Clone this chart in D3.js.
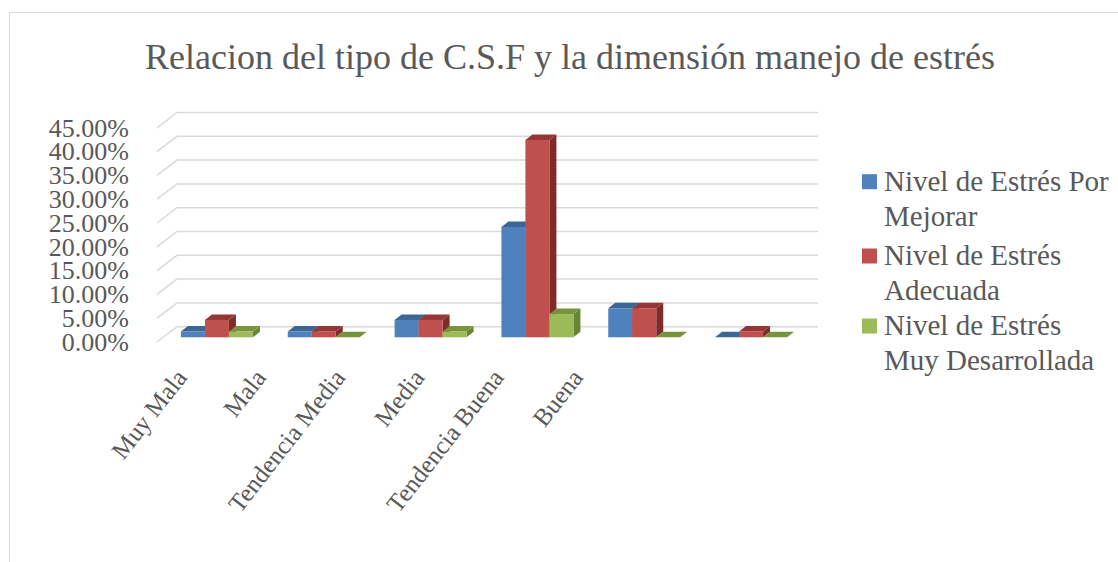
<!DOCTYPE html>
<html>
<head>
<meta charset="utf-8">
<script src="https://cdn.jsdelivr.net/npm/d3@7"></script>
<style>
  body { margin: 0; background: #fff; }
  text { font-family: "Liberation Serif", "Times New Roman", serif; fill: #595959; }
</style>
</head>
<body>
<div id="chart"></div>
<script>
// categories and series (values in %)
var categories = ["Muy Mala", "Mala", "Tendencia Media", "Media", "Tendencia Buena", "Buena"];
var seriesNames = ["Nivel de Estrés Por Mejorar", "Nivel de Estrés Adecuada", "Nivel de Estrés Muy Desarrollada"];
var porMejorar = [1.22, 1.22, 3.66, 23.17, 6.10, 0];
var adecuada = [3.66, 1.22, 3.66, 41.46, 6.10, 1.22];
var muyDesarrollada = [1.22, 0, 1.22, 4.88, 0, 0];
var yTicks = [0, 5, 10, 15, 20, 25, 30, 35, 40, 45];
var legendLines = [["Nivel de Estrés Por", "Mejorar"], ["Nivel de Estrés", "Adecuada"], ["Nivel de Estrés", "Muy Desarrollada"]];

var allSeries = [porMejorar, adecuada, muyDesarrollada];

// colours: front, top, side
var colors = [
    {front: "#4F81BD", top: "#3C6696", side: "#38598A"},
    {front: "#C0504D", top: "#943634", side: "#7D2C2A"},
    {front: "#9BBB59", top: "#77933C", side: "#6A8533"}
];

var w = 1118, h = 562;

var svg = d3.select("#chart")
    .append("svg")
    .attr("width", w)
    .attr("height", h);

// chart border (only top and left visible in the crop)
svg.append("rect")
    .attr("x", 9.5).attr("y", 12.5)
    .attr("width", 1200).attr("height", 700)
    .attr("fill", "none")
    .attr("stroke", "#d9d9d9");

// title
svg.append("text")
    .attr("x", 570).attr("y", 69)
    .attr("text-anchor", "middle")
    .style("font-size", "36px")
    .text("Relacion del tipo de C.S.F y la dimensión manejo de estrés");

// floor geometry (oblique 3D)
var floorY = 342;
var depth = {x: 20, y: -15.3};          // full floor depth
var barFront = {x: 6.5, y: -4.7};       // offset of bar front faces
var barDepth = {x: 7, y: -5.5};         // bar thickness in depth

var x0 = d3.scaleBand()
    .domain(categories)
    .range([157, 798]);

var groupW = x0.bandwidth() * 0.674;

var x1 = d3.scaleBand()
    .domain(d3.range(seriesNames.length))
    .range([0, groupW]);

// height of values (front plane)
var y = d3.scaleLinear()
    .domain([0, 45])
    .range([floorY, floorY - 214.2]);

// gridlines on back wall + left side wall
var grid = svg.append("g");
yTicks.forEach(function (t) {
    var yf = y(t);
    grid.append("path")
        .attr("d", "M157," + yf + " L" + (157 + depth.x) + "," + (yf + depth.y) + " L818," + (yf + depth.y))
        .attr("fill", "none")
        .attr("stroke", "#d9d9d9")
        .attr("stroke-width", 1.5);
});

// y axis labels
var yAxis = d3.axisLeft(y)
    .tickValues(yTicks)
    .tickSize(0)
    .tickPadding(0)
    .tickFormat(function (d) { return d.toFixed(2) + "%"; });

var yG = svg.append("g")
    .attr("transform", "translate(129,0)")
    .call(yAxis);
yG.select(".domain").remove();
yG.selectAll("text")
    .attr("fill", "#595959")
    .style("font-family", '"Liberation Serif", "Times New Roman", serif')
    .style("font-size", "26px");

// bars
var baseY = floorY + barFront.y;
var bars = svg.append("g");

categories.forEach(function (cat, i) {
    allSeries.forEach(function (vals, j) {
        var v = vals[i];
        var bx = x0(cat) + (x0.bandwidth() - groupW) / 2 + x1(j) + barFront.x;
        var bw = x1.bandwidth();
        var hgt = floorY - y(v);
        var top = baseY - hgt;
        var c = colors[j];

        // side face
        bars.append("polygon")
            .attr("points", [
                [bx + bw, top], [bx + bw + barDepth.x, top + barDepth.y],
                [bx + bw + barDepth.x, baseY + barDepth.y], [bx + bw, baseY]
            ].join(" "))
            .attr("fill", c.side);
        // top face
        bars.append("polygon")
            .attr("points", [
                [bx, top], [bx + bw, top],
                [bx + bw + barDepth.x, top + barDepth.y], [bx + barDepth.x, top + barDepth.y]
            ].join(" "))
            .attr("fill", c.top);
        // front face
        bars.append("rect")
            .attr("x", bx).attr("y", top)
            .attr("width", bw).attr("height", hgt)
            .attr("fill", c.front);
    });
});

// x labels (Excel places them on its own skewed axis)
var xl = d3.scalePoint()
    .domain(categories)
    .range([188, 584]);

svg.append("g").selectAll("text")
    .data(categories)
    .enter()
    .append("text")
    .attr("transform", function (d) { return "translate(" + xl(d) + ",378) rotate(-52)"; })
    .attr("text-anchor", "end")
    .style("font-size", "25px")
    .text(function (d) { return d; });

// legend
var legend = svg.append("g");
var entryY = [190.7, 265, 335];
legendLines.forEach(function (lines, k) {
    legend.append("rect")
        .attr("x", 862).attr("y", entryY[k] - 16.5)
        .attr("width", 15).attr("height", 15)
        .attr("fill", colors[k].front);
    lines.forEach(function (line, m) {
        legend.append("text")
            .attr("x", 884)
            .attr("y", entryY[k] + m * 35)
            .style("font-size", "29px")
            .text(line);
    });
});
</script>
</body>
</html>
